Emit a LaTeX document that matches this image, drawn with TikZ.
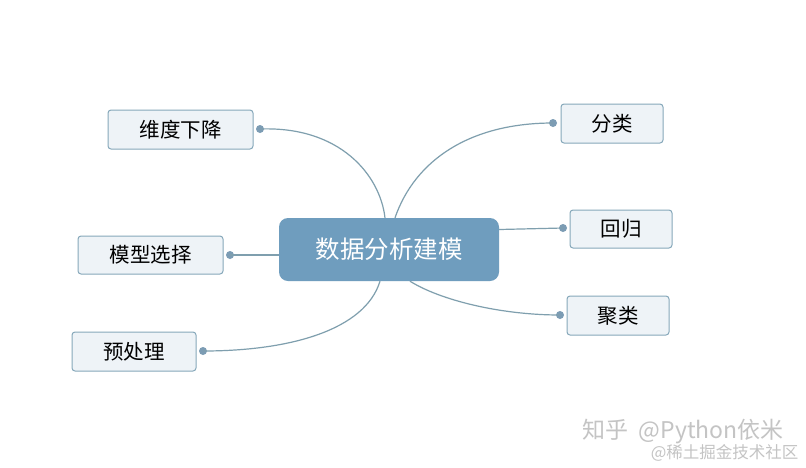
\documentclass[tikz,border=0pt]{standalone}
\usepackage{fontspec}
\newfontfamily\cjk{Noto Sans CJK SC}
\definecolor{mainblue}{HTML}{6F9DBE}
\definecolor{boxfill}{HTML}{EEF3F7}
\definecolor{boxline}{HTML}{86A8BA}
\definecolor{linkc}{HTML}{7F9FAE}
\definecolor{dotc}{HTML}{7C9CB4}
\definecolor{wm}{HTML}{C4C4C4}
\tikzset{
  topic/.style={draw=boxline, line width=1pt, fill=boxfill, rounded corners=3pt, inner sep=0pt, font=\cjk\fontsize{20.5}{20.5}\selectfont, text=black},
  central/.style={fill=mainblue, rounded corners=9pt, inner sep=0pt, minimum width=220pt, minimum height=63pt, font=\cjk\fontsize{24.5}{24.5}\selectfont, text=white},
  link/.style={draw=linkc, line width=1.2pt},
  knob/.style={circle, fill=dotc, inner sep=0pt, minimum size=8pt},
}
\begin{document}
\begin{tikzpicture}[x=1pt,y=-1pt]
\fill[white] (0,0) rectangle (806,467);
\useasboundingbox (0,0) rectangle (806,467);
\node[central] (c) at (389,249.5) {数据分析建模};
\node[topic, minimum width=145pt, minimum height=39pt] (t1) at (180.5,129.5) {维度下降};
\node[topic, minimum width=145pt, minimum height=38pt] (t2) at (150.5,255) {模型选择};
\node[topic, minimum width=124pt, minimum height=39pt] (t3) at (134,351.5) {预处理};
\node[topic, minimum width=102pt, minimum height=39pt] (t4) at (612,123.5) {分类};
\node[topic, minimum width=102pt, minimum height=38pt] (t5) at (621,229) {回归};
\node[topic, minimum width=102pt, minimum height=39pt] (t6) at (618,315.5) {聚类};
\node[knob] (k1) at (260,129) {};
\node[knob] (k2) at (230,255) {};
\node[knob] (k3) at (203,351) {};
\node[knob] (k4) at (553,123) {};
\node[knob] (k5) at (563,228) {};
\node[knob] (k6) at (560,315) {};
\draw[link] (k1.center) .. controls (340,126) and (380,175) .. ([xshift=-4pt]c.north);
\draw[link] ([xshift=6pt]c.north) .. controls (415,160) and (470,123) .. (k4.center);
\draw[link] ([yshift=20pt]c.east) -- (k5.center);
\draw[link] ([yshift=-5.5pt]c.west) -- (k2.center);
\draw[link] ([xshift=-9pt]c.south) .. controls (365,330) and (290,351) .. (k3.center);
\draw[link] ([xshift=21pt]c.south) .. controls (440,300) and (500,315) .. (k6.center);
\node[text=wm, font=\cjk\fontsize{23}{23}\selectfont, anchor=west] (w1) at (579,432) {知乎\ \ @Python依米};
\node[text=wm, font=\cjk\fontsize{16.5}{16.5}\selectfont, anchor=east] (w2) at (802,453) {@稀土掘金技术社区};
\end{tikzpicture}
\end{document}
